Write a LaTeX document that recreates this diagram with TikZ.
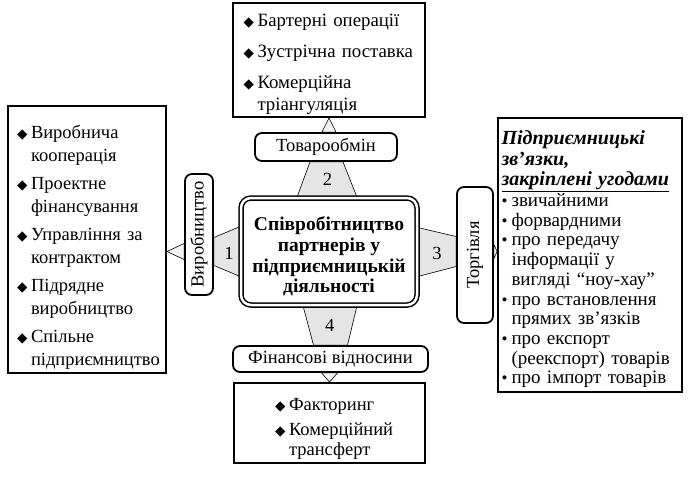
\documentclass[tikz,border=0pt]{standalone}
\usepackage{fontspec}
\setmainfont{Liberation Serif}
\newfontfamily\symfont{DejaVu Sans}
\usetikzlibrary{calc,backgrounds}

\newcommand{\dmd}{\makebox[14pt][l]{{\symfont\fontsize{13.5}{13.5}\selectfont\char"25C6}}} % diamond bullet
\newcommand{\ind}{\hspace*{14pt}} % hanging indent after diamond
\newcommand{\bul}{\makebox[10pt][l]{{\fontsize{17}{17}\selectfont\textbullet}}} % round bullet
\newcommand{\bind}{\hspace*{10pt}} % hanging indent after bullet
\newcommand{\padtop}[1]{\rule{0pt}{#1}} % pushes a list down in its box

\begin{document}
\begin{tikzpicture}[x=1pt, y=-1pt,
    every node/.style={font=\fontsize{18.5}{21}\selectfont},
    listbox/.style={draw, line width=1.8pt, align=left, inner xsep=0pt, inner ysep=0pt},
    tagbox/.style={draw, line width=1.8pt, rounded corners=7pt, inner sep=0pt},
    wedge/.style={draw, line width=0.6pt, fill=gray!20},
    smallwedge/.style={draw, line width=0.6pt, fill=gray!10},
]
    \useasboundingbox (0,0) rectangle (699,488);
    % centre
    \node [draw, double, line width=1.5pt, double distance=2.5pt, rounded corners=10pt,
        minimum width=176pt, minimum height=107pt, align=center,
        font=\fontsize{19.5}{20.7}\selectfont\bfseries] (coop) at (329,251.5)
        {\padtop{24pt}Співробітництво\\партнерів у\\підприємницькій\\діяльності}; % main box
    % labels round the centre
    \node [tagbox, minimum width=142pt, minimum height=28pt] (tovar) at (326,147) {Товарообмін}; % top label
    \node [tagbox, minimum width=28pt, minimum height=121pt] (vyrob) at (199,234.5) {\rotatebox{90}{Виробництво}}; % left label
    \node [tagbox, minimum width=36pt, minimum height=136pt] (torg) at (475,255) {\rotatebox{90}{Торгівля}}; % right label
    \node [tagbox, minimum width=195pt, minimum height=26pt] (fin) at (330.5,359) {Фінансові відносини}; % bottom label
    % lists
    \node [listbox, text width=171pt, minimum width=192pt, minimum height=114pt, font=\fontsize{18.8}{21.5}\selectfont] (barter) at (329,60)
        {\padtop{21.5pt}\dmd Бартерні операції\\[9.5pt]\dmd Зустрічна поставка\\[9.5pt]\dmd Комерційна\\\ind тріангуляція}; % top list
    \node [listbox, text width=140pt, minimum width=158pt, minimum height=267pt, font=\fontsize{18.5}{23}\selectfont] (prod) at (87,239.5)
        {\padtop{29pt}\dmd Виробнича\\\ind кооперація\\[5pt]\dmd Проектне\\\ind фінансування\\[5pt]\dmd Управління за\\\ind контрактом\\[5pt]\dmd Підрядне\\\ind виробництво\\[5pt]\dmd Спільне\\\ind підприємництво}; % left list
    \node [listbox, text width=177pt, minimum width=184pt, minimum height=274pt, font=\fontsize{19}{19.7}\selectfont] (deals) at (590,255)
        {{\fontsize{20}{20}\selectfont\bfseries\itshape \padtop{22pt}Підприємницькі\\[1pt]зв’язки,\\[1pt]\underline{закріплені угодами}}\\[1pt]
         \bul звичайними\\\bul форвардними\\\bul про передачу\\\bind інформації у\\\bind вигляді “ноу-хау”\\
         \bul про встановлення\\\bind прямих зв’язків\\\bul про експорт\\\bind (реекспорт) товарів\\\bul про імпорт товарів}; % right list
    \node [listbox, text width=109pt, minimum width=191pt, minimum height=80pt, font=\fontsize{18.5}{20}\selectfont] (factor) at (329.5,423)
        {\padtop{23pt}\dmd Факторинг\\[5pt]\dmd Комерційний\\\ind трансферт}; % bottom list
    % wedges
    \begin{scope}[on background layer]
        \filldraw [wedge] ($(tovar.south)+(-16,0)$) -- ($(tovar.south)+(17,0)$) -- ($(coop.north)+(28,0)$) -- ($(coop.north)+(-32,0)$) -- cycle; % 2
        \filldraw [wedge] ($(coop.west)+(0,-25)$) -- ($(coop.west)+(0,25)$) -- ($(vyrob.east|-coop.west)+(0,14)$) -- ($(vyrob.east|-coop.west)+(0,-14)$) -- cycle; % 1
        \filldraw [wedge] ($(coop.east)+(0,-24)$) -- ($(coop.east)+(0,25)$) -- ($(torg.west|-coop.east)+(0,15)$) -- ($(torg.west|-coop.east)+(0,-15)$) -- cycle; % 3
        \filldraw [wedge] ($(coop.south)+(-26,0)$) -- ($(coop.south)+(28,0)$) -- ($(fin.north)+(17,0)$) -- ($(fin.north)+(-17,0)$) -- cycle; % 4
        \filldraw [smallwedge] (barter.south) -- ($(tovar.north-|barter.south)+(-7,0)$) -- ($(tovar.north-|barter.south)+(7,0)$) -- cycle;
        \filldraw [smallwedge] (prod.east|-coop.west) -- ($(vyrob.west|-coop.west)+(0,-8)$) -- ($(vyrob.west|-coop.west)+(0,8)$) -- cycle;
        \filldraw [smallwedge] (deals.west|-coop.east) -- ($(torg.east|-coop.east)+(0,-7)$) -- ($(torg.east|-coop.east)+(0,7)$) -- cycle;
        \filldraw [smallwedge] (factor.north) -- ($(fin.south-|factor.north)+(-8,0)$) -- ($(fin.south-|factor.north)+(8,0)$) -- cycle;
    \end{scope}
    % numbers
    \node (n2) at ($(tovar.south)!0.5!(coop.north)$) {2};
    \node (n1) at ($(vyrob.east|-coop.west)!0.5!(coop.west)+(2,2)$) {1};
    \node (n3) at ($(torg.west|-coop.east)!0.5!(coop.east)+(0,2)$) {3};
    \node (n4) at ($(fin.north)!0.5!(coop.south)$) {4};
\end{tikzpicture}
\end{document}
